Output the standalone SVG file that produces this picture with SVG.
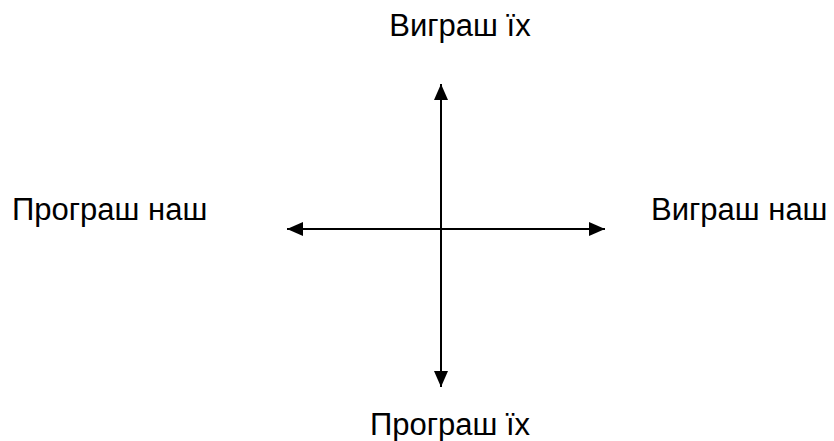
<svg xmlns="http://www.w3.org/2000/svg" width="834" height="441" viewBox="0 0 834 441">
<style>
text{font-family:"Liberation Sans",Arial,sans-serif;font-size:31px;fill:#000}
.ax{stroke:#000;stroke-width:2;fill:none}
</style>
<defs>
<marker id="ah" viewBox="0 0 16 14" refX="16" refY="7" markerWidth="16" markerHeight="14" markerUnits="userSpaceOnUse" orient="auto-start-reverse">
<path d="M0,0 L16,7 L0,14 Z" fill="#000"/>
</marker>
</defs>
<rect width="834" height="441" fill="#fff"/>
<g id="connectors">
<line class="ax" x1="441" y1="84" x2="441" y2="387" marker-start="url(#ah)" marker-end="url(#ah)"/>
<line class="ax" x1="287" y1="229" x2="605" y2="229" marker-start="url(#ah)" marker-end="url(#ah)"/>
</g>
<g id="top"><text x="460" y="36" text-anchor="middle">Виграш їх</text></g>
<g id="left"><text x="12" y="220">Програш наш</text></g>
<g id="right"><text x="651" y="220">Виграш наш</text></g>
<g id="bottom"><text x="450" y="435" text-anchor="middle">Програш їх</text></g>
</svg>
